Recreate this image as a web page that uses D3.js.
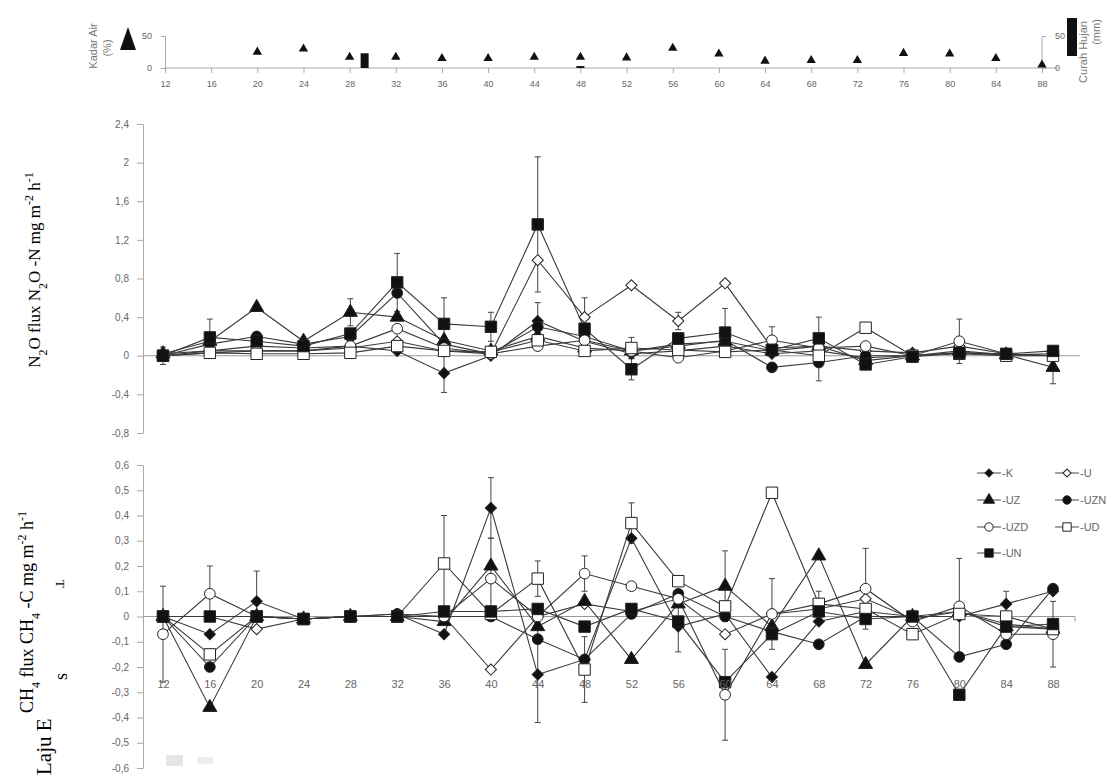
<!DOCTYPE html>
<html>
<head>
<meta charset="utf-8">
<script src="https://cdn.jsdelivr.net/npm/d3@7"></script>
<style>
  body { margin: 0; background: #fff; }
  text { font-family: "Liberation Sans", Arial, sans-serif; }
  .serif { font-family: "Liberation Serif", "Times New Roman", serif; fill: #000; }
</style>
</head>
<body>
<svg id="chart"></svg>
<script>
// sampling days (HST)
const days = [12, 16, 20, 24, 28, 32, 36, 40, 44, 48, 52, 56, 60, 64, 68, 72, 76, 80, 84, 88];
const seriesNames = ["K", "U", "UZ", "UZN", "UZD", "UD", "UN"];

// top strip: soil water content (%) and rainfall (mm)
const waterDays = [20, 24, 28, 32, 36, 40, 44, 48, 52, 56, 60, 64, 68, 72, 76, 80, 84, 88];
const waterContent = [25, 30, 17, 17, 15, 15, 17, 17, 16, 31, 22, 11, 12, 12, 23, 22, 15, 5];
const rainDays = [29.3, 48];
const rainMm = [23, 3];

// N2O flux (mg N2O-N m-2 h-1)
const n2oK   = [0.00, 0.05, 0.10, 0.08, 0.10, 0.05, -0.18, 0.00, 0.36, 0.15, 0.02, 0.05, 0.10, 0.02, 0.05, -0.02, 0.00, 0.03, 0.01, 0.00];
const n2oU   = [0.02, 0.05, 0.05, 0.05, 0.08, 0.15, 0.05, 0.02, 0.99, 0.40, 0.73, 0.36, 0.75, 0.08, 0.10, 0.05, 0.03, 0.10, 0.02, 0.00];
const n2oUZ  = [0.02, 0.15, 0.50, 0.15, 0.45, 0.40, 0.16, 0.05, 0.20, 0.08, 0.05, 0.12, 0.15, 0.05, 0.10, -0.05, 0.00, 0.05, 0.01, -0.12];
const n2oUZN = [0.00, 0.12, 0.20, 0.12, 0.20, 0.65, 0.12, 0.02, 0.30, 0.20, 0.05, 0.10, 0.16, -0.12, -0.07, 0.00, 0.00, 0.03, 0.01, 0.02];
const n2oUZD = [0.00, 0.03, 0.05, 0.05, 0.10, 0.28, 0.08, 0.02, 0.10, 0.16, 0.05, -0.02, 0.05, 0.16, 0.08, 0.10, 0.00, 0.15, 0.02, 0.00];
const n2oUD  = [0.00, 0.03, 0.02, 0.02, 0.03, 0.10, 0.05, 0.04, 0.16, 0.05, 0.08, 0.06, 0.04, 0.06, 0.00, 0.29, 0.00, 0.02, 0.00, 0.00];
const n2oUN  = [0.00, 0.19, 0.15, 0.10, 0.23, 0.76, 0.33, 0.30, 1.36, 0.28, -0.14, 0.18, 0.24, 0.06, 0.18, -0.09, -0.01, 0.03, 0.02, 0.05];
// [day, series, standard deviation]
const n2oErrors = [
  [12, "UN", 0.09], [16, "UN", 0.19], [28, "UZ", 0.14], [32, "UN", 0.30], [36, "UN", 0.27],
  [36, "K", 0.20], [40, "UN", 0.15], [44, "UN", 0.70], [44, "K", 0.19], [48, "U", 0.20],
  [52, "UD", 0.11], [52, "UN", 0.11], [56, "U", 0.09], [60, "UN", 0.25], [64, "UZD", 0.14],
  [68, "UN", 0.22], [68, "UZN", 0.19], [72, "UD", 0.05], [80, "UZD", 0.23], [88, "UZ", 0.17]
];

// CH4 flux (mg CH4-C m-2 h-1)
const ch4K   = [0.00, -0.07, 0.06, -0.01, 0.00, 0.01, -0.07, 0.43, -0.23, -0.17, 0.31, -0.04, 0.01, -0.24, -0.02, 0.02, 0.00, 0.00, 0.05, 0.10];
const ch4U   = [0.00, 0.00, -0.05, -0.01, 0.00, 0.00, 0.00, -0.21, 0.00, 0.05, 0.02, 0.07, -0.07, 0.01, 0.03, 0.07, -0.01, 0.02, -0.03, -0.05];
const ch4UZ  = [0.00, -0.36, 0.00, -0.01, 0.00, 0.00, -0.02, 0.20, -0.04, 0.06, -0.17, 0.05, 0.12, -0.04, 0.24, -0.19, 0.00, 0.02, -0.04, -0.05];
const ch4UZN = [0.00, -0.20, 0.00, -0.01, 0.00, 0.01, 0.00, 0.00, -0.09, -0.17, 0.01, 0.09, 0.00, -0.06, -0.11, 0.00, 0.00, -0.16, -0.11, 0.11];
const ch4UZD = [-0.07, 0.09, 0.00, -0.01, 0.00, 0.00, 0.00, 0.15, 0.00, 0.17, 0.12, 0.07, -0.31, 0.01, 0.05, 0.11, -0.02, 0.04, -0.07, -0.07];
const ch4UD  = [0.00, -0.15, 0.00, -0.01, 0.00, 0.00, 0.21, 0.01, 0.15, -0.21, 0.37, 0.14, 0.04, 0.49, 0.05, 0.03, -0.07, 0.01, 0.00, -0.05];
const ch4UN  = [0.00, 0.00, 0.00, -0.01, 0.00, 0.00, 0.02, 0.02, 0.03, -0.04, 0.03, -0.02, -0.26, -0.07, 0.02, -0.01, 0.00, -0.31, -0.04, -0.03];
const ch4Errors = [
  [12, "UZD", 0.19], [16, "UZD", 0.11], [20, "K", 0.12], [36, "UD", 0.19], [40, "UZD", 0.16],
  [40, "K", 0.12], [44, "K", 0.19], [44, "UD", 0.07], [48, "UZD", 0.07], [48, "UD", 0.13],
  [52, "UD", 0.08], [56, "K", 0.10], [60, "UZD", 0.18], [60, "UZ", 0.14], [64, "UZD", 0.14],
  [68, "UD", 0.05], [72, "UZD", 0.16], [80, "UZD", 0.19], [84, "K", 0.05], [88, "UZD", 0.13]
];

const n2oTicks = [-0.8, -0.4, 0, 0.4, 0.8, 1.2, 1.6, 2, 2.4];
const ch4Ticks = [-0.6, -0.5, -0.4, -0.3, -0.2, -0.1, 0, 0.1, 0.2, 0.3, 0.4, 0.5, 0.6];

const n2oData = { K: n2oK, U: n2oU, UZ: n2oUZ, UZN: n2oUZN, UZD: n2oUZD, UD: n2oUD, UN: n2oUN };
const ch4Data = { K: ch4K, U: ch4U, UZ: ch4UZ, UZN: ch4UZN, UZD: ch4UZD, UD: ch4UD, UN: ch4UN };

const markerShape = { K: "diamond", U: "diamond", UZ: "triangle", UZN: "circle", UZD: "circle", UD: "square", UN: "square" };
const markerFilled = { K: true, U: false, UZ: true, UZN: true, UZD: false, UD: false, UN: true };

const svg = d3.select("#chart").attr("width", 1119).attr("height", 776);
svg.append("rect").attr("width", 1119).attr("height", 776).attr("fill", "#fff");

const x = d3.scaleLinear().domain([12, 88]).range([163, 1053]);
const xTop = d3.scaleLinear().domain([12, 88]).range([165, 1042]);
const yWater = d3.scaleLinear().domain([0, 50]).range([68, 36]);
const yRain = d3.scaleLinear().domain([0, 50]).range([68, 36]);
const yN2O = d3.scaleLinear().domain([-0.8, 2.4]).range([433, 124]);
const yCH4 = d3.scaleLinear().domain([-0.6, 0.6]).range([768, 465]);

const commaFmt = (d) => String(+d.toFixed(1)).replace(".", ",");

function styleAxis(g, size = "10px") {
    g.selectAll("path, line").attr("stroke", "#aaa");
    g.selectAll("text").attr("fill", "#666").style("font-size", size);
}

function symbolPath(name) {
    const shape = markerShape[name];
    if (shape === "diamond") return d3.symbol(d3.symbolSquare, 62)();
    if (shape === "triangle") return d3.symbol(d3.symbolTriangle, 85)();
    if (shape === "circle") return d3.symbol(d3.symbolCircle, 90)();
    return d3.symbol(d3.symbolSquare, 130)();
}

function markerTransform(name, cx, cy) {
    return markerShape[name] === "diamond"
        ? `translate(${cx},${cy}) rotate(45)`
        : `translate(${cx},${cy})`;
}

// ---------- top strip ----------
const strip = svg.append("g");

strip.append("g")
    .attr("transform", "translate(0,68)")
    .call(d3.axisBottom(xTop).tickValues(days).tickSize(5).tickPadding(8).tickSizeOuter(0))
    .call(styleAxis, "9px")
    .call((g) => g.select(".domain").attr("d", "M165,0H1058"));

strip.append("g")
    .attr("transform", "translate(165,0)")
    .call(d3.axisLeft(yWater).tickValues([0, 50]).tickSize(4).tickPadding(9).tickSizeOuter(0))
    .call(styleAxis, "9px");

strip.append("g")
    .attr("transform", "translate(1042,0)")
    .call(d3.axisRight(yRain).tickValues([0, 50]).tickSize(4).tickPadding(9).tickSizeOuter(0))
    .call(styleAxis, "9px")
    .call((g) => g.select(".domain").attr("d", "M0,37V68"));

strip.append("g")
    .selectAll("rect")
    .data(rainDays.map((d, i) => ({ day: d, mm: rainMm[i] })))
    .join("rect")
    .attr("x", (d) => xTop(d.day) - 4)
    .attr("y", (d) => yRain(d.mm))
    .attr("width", 8)
    .attr("height", (d) => 68 - yRain(d.mm))
    .attr("fill", "#111");

strip.append("g")
    .selectAll("path")
    .data(waterDays.map((d, i) => ({ day: d, v: waterContent[i] })))
    .join("path")
    .attr("d", d3.symbol(d3.symbolTriangle, 38)())
    .attr("transform", (d) => `translate(${xTop(d.day)},${yWater(d.v)})`)
    .attr("fill", "#111");

// legend icons + titles of the strip
strip.append("path").attr("d", "M128,27 L136,50 L120,50 Z").attr("fill", "#111");
strip.append("rect").attr("x", 1067).attr("y", 18).attr("width", 10).attr("height", 38).attr("fill", "#111");
strip.append("text").attr("transform", "translate(97,46) rotate(-90)").attr("text-anchor", "middle")
    .attr("fill", "#777").style("font-size", "11px").text("Kadar Air");
strip.append("text").attr("transform", "translate(111,48) rotate(-90)").attr("text-anchor", "middle")
    .attr("fill", "#777").style("font-size", "11px").text("(%)");
strip.append("text").attr("transform", "translate(1087,52) rotate(-90)").attr("text-anchor", "middle")
    .attr("fill", "#777").style("font-size", "11px").text("Curah Hujan");
strip.append("text").attr("transform", "translate(1100,32) rotate(-90)").attr("text-anchor", "middle")
    .attr("fill", "#777").style("font-size", "11px").text("(mm)");

// ---------- flux panels ----------
function drawPanel(data, errors, y, ticks, zeroEnd) {
    const g = svg.append("g");

    g.append("g")
        .attr("transform", "translate(143,0)")
        .call(d3.axisLeft(y).tickValues(ticks).tickFormat(commaFmt).tickSize(6).tickPadding(8).tickSizeOuter(0))
        .call(styleAxis);

    g.append("line")
        .attr("x1", 143).attr("x2", zeroEnd)
        .attr("y1", y(0)).attr("y2", y(0))
        .attr("stroke", "#999");

    const line = d3.line().x((d) => x(d.day)).y((d) => y(d.v));

    g.append("g")
        .selectAll("path")
        .data(seriesNames)
        .join("path")
        .attr("d", (s) => line(days.map((d, i) => ({ day: d, v: data[s][i] }))))
        .attr("fill", "none")
        .attr("stroke", "#3a3a3a")
        .attr("stroke-width", 1.1);

    const err = g.append("g")
        .selectAll("g")
        .data(errors)
        .join("g")
        .attr("stroke", "#444")
        .attr("stroke-width", 1);
    const val = (e) => data[e[1]][days.indexOf(e[0])];
    err.append("line")
        .attr("x1", (e) => x(e[0])).attr("x2", (e) => x(e[0]))
        .attr("y1", (e) => y(val(e) - e[2])).attr("y2", (e) => y(val(e) + e[2]));
    err.append("line")
        .attr("x1", (e) => x(e[0]) - 3).attr("x2", (e) => x(e[0]) + 3)
        .attr("y1", (e) => y(val(e) + e[2])).attr("y2", (e) => y(val(e) + e[2]));
    err.append("line")
        .attr("x1", (e) => x(e[0]) - 3).attr("x2", (e) => x(e[0]) + 3)
        .attr("y1", (e) => y(val(e) - e[2])).attr("y2", (e) => y(val(e) - e[2]));

    seriesNames.forEach((s) => {
        g.append("g")
            .selectAll("path")
            .data(days.map((d, i) => ({ day: d, v: data[s][i] })))
            .join("path")
            .attr("d", symbolPath(s))
            .attr("transform", (d) => markerTransform(s, x(d.day), y(d.v)))
            .attr("fill", markerFilled[s] ? "#111" : "#fff")
            .attr("stroke", "#222")
            .attr("stroke-width", 1);
    });
    return g;
}

drawPanel(n2oData, n2oErrors, yN2O, n2oTicks, 1080);
const ch4Panel = drawPanel(ch4Data, ch4Errors, yCH4, ch4Ticks, 1075);

ch4Panel.append("line").attr("x1", 1075).attr("x2", 1075).attr("y1", yCH4(0)).attr("y2", yCH4(0) + 5).attr("stroke", "#999");

ch4Panel.append("g")
    .attr("transform", "translate(0,680)")
    .call(d3.axisBottom(x).tickValues(days).tickSize(0).tickPadding(0))
    .call(styleAxis, "11px")
    .call((g) => g.select(".domain").remove());

// ---------- legend ----------
const legendItems = [
    { name: "K", lx: 977, ly: 473 }, { name: "U", lx: 1055, ly: 473 },
    { name: "UZ", lx: 977, ly: 500 }, { name: "UZN", lx: 1055, ly: 500 },
    { name: "UZD", lx: 977, ly: 527 }, { name: "UD", lx: 1055, ly: 527 },
    { name: "UN", lx: 977, ly: 553 }
];
const legend = svg.append("g")
    .selectAll("g")
    .data(legendItems)
    .join("g")
    .attr("transform", (d) => `translate(${d.lx},${d.ly})`);
legend.append("line").attr("x1", 0).attr("x2", 24).attr("stroke", "#444");
legend.append("path")
    .attr("d", (d) => d3.symbol(markerShape[d.name] === "triangle" ? d3.symbolTriangle
        : markerShape[d.name] === "circle" ? d3.symbolCircle : d3.symbolSquare,
        markerShape[d.name] === "square" ? 70 : markerShape[d.name] === "diamond" ? 32 : 55)())
    .attr("transform", (d) => markerShape[d.name] === "diamond" ? "translate(12,0) rotate(45)" : "translate(12,0)")
    .attr("fill", (d) => markerFilled[d.name] ? "#111" : "#fff")
    .attr("stroke", "#222");
legend.append("text").attr("x", 25).attr("dy", "0.35em").attr("fill", "#666")
    .style("font-size", "11px").text((d) => "-" + d.name);

// ---------- axis titles ----------
function sub(t, s) { t.append("tspan").attr("baseline-shift", "sub").style("font-size", "12px").text(s); }
function sup(t, s) { t.append("tspan").attr("baseline-shift", "super").style("font-size", "12px").text(s); }

const t1 = svg.append("text").attr("class", "serif").attr("text-anchor", "middle")
    .attr("transform", "translate(40,270) rotate(-90)").style("font-size", "17px");
t1.append("tspan").text("N");
sub(t1, "2");
t1.append("tspan").text("O  flux N");
sub(t1, "2");
t1.append("tspan").text("O -N mg m");
sup(t1, "-2");
t1.append("tspan").text(" h");
sup(t1, "-1");

const t2 = svg.append("text").attr("class", "serif").attr("text-anchor", "middle")
    .attr("transform", "translate(33,612) rotate(-90)").style("font-size", "18px");
t2.append("tspan").text("CH");
sub(t2, "4");
t2.append("tspan").text(" flux CH");
sub(t2, "4");
t2.append("tspan").text(" -C mg m");
sup(t2, "-2");
t2.append("tspan").text(" h");
sup(t2, "-1");

svg.append("text").attr("class", "serif").attr("transform", "translate(51,775) rotate(-90)")
    .style("font-size", "21px").text("Laju E");
svg.append("text").attr("class", "serif").attr("transform", "translate(67,680) rotate(-90)")
    .style("font-size", "18px").text("s");
svg.append("text").attr("class", "serif").attr("transform", "translate(56,584) rotate(90)")
    .attr("text-anchor", "middle").style("font-size", "13px").text("T");

svg.append("rect").attr("x", 166).attr("y", 755).attr("width", 17).attr("height", 11).attr("fill", "#e6e6e6");
svg.append("rect").attr("x", 197).attr("y", 757).attr("width", 16).attr("height", 7).attr("fill", "#eee");
</script>
</body>
</html>
